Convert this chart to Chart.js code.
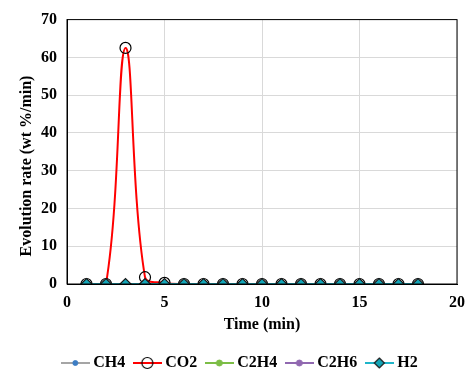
<!DOCTYPE html>
<html>
<head>
<meta charset="utf-8">
<script src="https://cdn.jsdelivr.net/npm/chart.js@4.4.0/dist/chart.umd.min.js"></script>
<style>
  html, body { margin: 0; padding: 0; background: #fff; }
  #wrap { width: 466px; height: 372px; }
</style>
</head>
<body>
<div id="wrap"><canvas id="chart" width="466" height="372"></canvas></div>
<script>
const times = [1, 2, 3, 4, 5, 6, 7, 8, 9, 10, 11, 12, 13, 14, 15, 16, 17, 18];
const ch4  = [0, 0, 0, 0, 0, 0, 0, 0, 0, 0, 0, 0, 0, 0, 0, 0, 0, 0];
const co2  = [0, 0, 62.5, 1.8, 0.3, 0, 0, 0, 0, 0, 0, 0, 0, 0, 0, 0, 0, 0];
const c2h4 = [0, 0, 0, 0, 0, 0, 0, 0, 0, 0, 0, 0, 0, 0, 0, 0, 0, 0];
const c2h6 = [0, 0, 0, 0, 0, 0, 0, 0, 0, 0, 0, 0, 0, 0, 0, 0, 0, 0];
const h2   = [0, 0, 0, 0, 0, 0, 0, 0, 0, 0, 0, 0, 0, 0, 0, 0, 0, 0];

const FONT = 'Liberation Serif, Times New Roman, serif';
const pts = (ys) => times.map((t, i) => ({ x: t, y: ys[i] }));

// small canvas with line + marker for the legend
function legendIcon(ds) {
  const c = document.createElement('canvas');
  c.width = 29; c.height = 14;
  const g = c.getContext('2d');
  g.strokeStyle = ds.borderColor;
  g.lineWidth = 2;
  g.beginPath(); g.moveTo(0, 7); g.lineTo(29, 7); g.stroke();
  g.fillStyle = ds.pointBackgroundColor;
  g.strokeStyle = ds.pointBorderColor;
  g.lineWidth = ds.pointBorderWidth;
  g.beginPath();
  if (ds.pointStyle === 'rectRot') {
    g.moveTo(14.5, 2); g.lineTo(19.5, 7); g.lineTo(14.5, 12); g.lineTo(9.5, 7); g.closePath();
  } else {
    g.arc(14.5, 7, ds.pointRadius, 0, Math.PI * 2);
  }
  if (ds.pointBackgroundColor !== 'transparent') g.fill();
  g.stroke();
  return c;
}

const plotFrame = {
  id: 'plotFrame',
  afterDraw(chart) {
    const { ctx, chartArea: a } = chart;
    ctx.save();
    ctx.strokeStyle = '#000';
    ctx.lineWidth = 1;
    ctx.strokeRect(a.left, a.top, a.right - a.left, a.bottom - a.top);
    ctx.fillStyle = '#000';
    ctx.font = 'bold 16px ' + FONT;
    ctx.textAlign = 'center';
    ctx.textBaseline = 'middle';
    ctx.translate(27, 166);
    ctx.rotate(-Math.PI / 2);
    ctx.fillText('Evolution rate (wt %/min)', 0, 0);
    ctx.restore();
  }
};

new Chart(document.getElementById('chart'), {
  type: 'line',
  data: {
    datasets: [
      { label: 'CH4', data: pts(ch4), borderColor: '#a5a5a5', borderWidth: 2,
        pointStyle: 'circle', pointRadius: 2.5, pointBackgroundColor: '#3c7dc4',
        pointBorderColor: '#3c7dc4', pointBorderWidth: 1, order: 4 },
      { label: 'CO2', data: pts(co2), borderColor: '#ff0000', borderWidth: 2, tension: 0.4,
        pointStyle: 'circle', pointRadius: 5.5, pointBackgroundColor: 'transparent',
        pointBorderColor: '#000', pointBorderWidth: 1.2, order: 1 },
      { label: 'C2H4', data: pts(c2h4), borderColor: '#7cbd46', borderWidth: 2,
        pointStyle: 'circle', pointRadius: 3, pointBackgroundColor: '#7cbd46',
        pointBorderColor: '#7cbd46', pointBorderWidth: 1, order: 3 },
      { label: 'C2H6', data: pts(c2h6), borderColor: '#9068b0', borderWidth: 2,
        pointStyle: 'circle', pointRadius: 3, pointBackgroundColor: '#9068b0',
        pointBorderColor: '#9068b0', pointBorderWidth: 1, order: 2 },
      { label: 'H2', data: pts(h2), borderColor: '#1fb5c9', borderWidth: 2,
        pointStyle: 'rectRot', pointRadius: 5.5, pointBackgroundColor: '#14a6b8',
        pointBorderColor: '#1a1a1a', pointBorderWidth: 1.2, order: 0 }
    ]
  },
  options: {
    responsive: false,
    animation: false,
    layout: { padding: { top: 18, right: 9, left: 26, bottom: -9 } },
    scales: {
      x: {
        type: 'linear', min: 0, max: 20,
        ticks: { stepSize: 5, color: '#000', padding: 9, font: { family: FONT, size: 16, weight: 'bold' } },
        grid: { color: '#d9d9d9', drawTicks: false },
        border: { color: '#000' },
        title: { display: true, text: 'Time (min)', color: '#000', padding: { top: 4, bottom: 9 },
                 font: { family: FONT, size: 16, weight: 'bold' } },
        afterFit(s) { s.height = 59; s.paddingRight = 0; s.paddingLeft = 0; }
      },
      y: {
        min: 0, max: 70,
        ticks: { stepSize: 10, color: '#000', padding: 10, font: { family: FONT, size: 16, weight: 'bold' } },
        grid: { color: '#d9d9d9', drawTicks: false },
        border: { color: '#000' },
        afterFit(s) { s.width = 41; }
      }
    },
    plugins: {
      tooltip: { enabled: false },
      legend: {
        position: 'bottom',
        labels: {
          usePointStyle: true,
          pointStyleWidth: 20,
          padding: 12,
          color: '#000',
          font: { family: FONT, size: 16, weight: 'bold' },
          generateLabels(chart) {
            return chart.data.datasets.map((ds, i) => ({
              text: ds.label, datasetIndex: i, pointStyle: legendIcon(ds),
              fillStyle: ds.borderColor, strokeStyle: ds.borderColor, lineWidth: 0, hidden: false
            }));
          }
        }
      }
    }
  },
  plugins: [plotFrame]
});
</script>
</body>
</html>
